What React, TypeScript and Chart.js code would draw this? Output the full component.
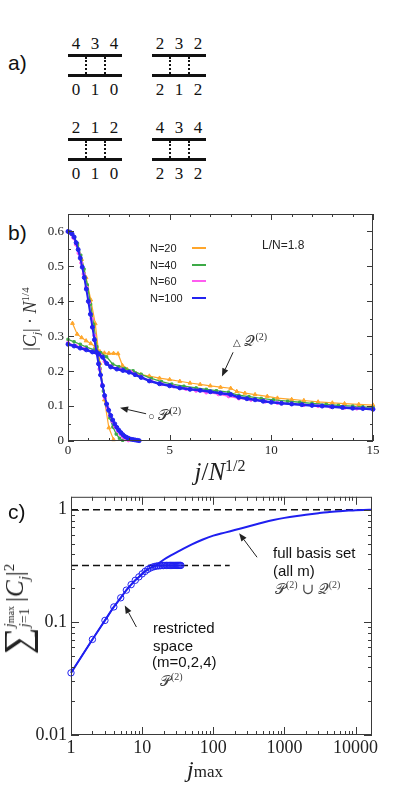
import React, { useEffect, useRef } from 'react';
import { Chart, registerables } from 'chart.js';
Chart.register(...registerables);

// ---------- Panel b data (x = j/N^{1/2}, y = |C_j| N^{1/4}) ----------
const n20PX = [0, 0.22, 0.45, 0.67, 0.89, 1.12, 1.34, 1.57, 1.79, 2.01, 2.24];
const n20PY = [0.600, 0.592, 0.562, 0.520, 0.468, 0.404, 0.336, 0.222, 0.118, 0.038, 0.004];
const n40PX = [0, 0.16, 0.32, 0.47, 0.63, 0.79, 0.95, 1.11, 1.26, 1.42, 1.58, 1.74, 1.90, 2.06, 2.21, 2.37, 2.53, 2.69];
const n40PY = [0.600, 0.596, 0.582, 0.565, 0.532, 0.492, 0.447, 0.392, 0.334, 0.270, 0.207, 0.143, 0.099, 0.066, 0.040, 0.020, 0.008, 0.002];
const n60PX = [0, 0.13, 0.26, 0.39, 0.52, 0.65, 0.77, 0.90, 1.03, 1.16, 1.29, 1.42, 1.55, 1.68, 1.81, 1.94, 2.07, 2.19, 2.32, 2.45, 2.58, 2.71, 2.84, 2.97];
const n60PY = [0.600, 0.595, 0.582, 0.563, 0.538, 0.510, 0.478, 0.440, 0.396, 0.350, 0.302, 0.252, 0.206, 0.162, 0.124, 0.096, 0.074, 0.056, 0.041, 0.029, 0.019, 0.011, 0.005, 0.002];
const n100PX = [0, 0.1, 0.2, 0.3, 0.4, 0.5, 0.6, 0.7, 0.8, 0.9, 1.0, 1.1, 1.2, 1.3, 1.4, 1.5, 1.6, 1.7, 1.8, 1.9, 2.0, 2.1, 2.2, 2.3, 2.4, 2.5, 2.6, 2.7, 2.8, 2.9, 3.0, 3.1, 3.2, 3.3, 3.4, 3.5];
const n100PY = [0.600, 0.598, 0.593, 0.584, 0.568, 0.548, 0.524, 0.498, 0.468, 0.435, 0.400, 0.363, 0.326, 0.290, 0.255, 0.221, 0.189, 0.158, 0.130, 0.106, 0.088, 0.073, 0.060, 0.049, 0.039, 0.031, 0.024, 0.018, 0.013, 0.010, 0.007, 0.005, 0.004, 0.003, 0.002, 0.001];

const n20QX = [0.22, 0.45, 0.67, 0.89, 1.12, 1.34, 1.57, 1.79, 2.01, 2.24, 2.46, 2.68, 2.91, 3.13, 3.35, 3.58, 4.0, 4.5, 5.0, 5.5, 6.0, 6.5, 7.0, 7.5, 8.0, 8.3, 8.7, 9.2, 9.8, 10.3, 11.0, 11.6, 12.3, 13.0, 13.6, 14.3, 15.0];
const n20QY = [0.337, 0.306, 0.296, 0.287, 0.279, 0.270, 0.256, 0.252, 0.251, 0.251, 0.250, 0.216, 0.205, 0.197, 0.193, 0.190, 0.186, 0.180, 0.176, 0.171, 0.166, 0.162, 0.158, 0.154, 0.151, 0.142, 0.137, 0.133, 0.128, 0.123, 0.119, 0.116, 0.112, 0.109, 0.107, 0.105, 0.103];
const n40QX = [0, 0.3, 0.6, 0.9, 1.3, 1.6, 1.9, 2.2, 2.5, 2.8, 3.2, 3.6, 4.1, 4.6, 5.1, 5.7, 6.3, 6.8, 7.3, 7.9, 8.4, 8.9, 9.5, 10.1, 10.8, 11.4, 12.0, 12.7, 13.3, 14.0, 14.5, 15.0];
const n40QY = [0.291, 0.284, 0.277, 0.269, 0.261, 0.253, 0.241, 0.220, 0.213, 0.208, 0.201, 0.191, 0.179, 0.170, 0.163, 0.157, 0.152, 0.148, 0.144, 0.140, 0.131, 0.127, 0.122, 0.118, 0.114, 0.111, 0.108, 0.105, 0.102, 0.100, 0.098, 0.096];
const n60QX = [0, 0.4, 0.8, 1.2, 1.6, 1.8, 2.1, 2.6, 3.1, 3.6, 4.1, 4.6, 5.2, 5.8, 6.3, 6.8, 7.4, 7.9, 8.4, 9.0, 9.7, 10.3, 11.0, 11.6, 12.3, 12.9, 13.6, 14.2, 15.0];
const n60QY = [0.281, 0.272, 0.264, 0.256, 0.245, 0.228, 0.214, 0.205, 0.197, 0.184, 0.171, 0.163, 0.156, 0.149, 0.144, 0.139, 0.134, 0.128, 0.122, 0.118, 0.113, 0.109, 0.106, 0.103, 0.100, 0.098, 0.095, 0.093, 0.090];
const n100QX = [0, 0.3, 0.6, 0.9, 1.2, 1.5, 1.7, 1.9, 2.1, 2.4, 2.7, 3.0, 3.3, 3.6, 4.0, 4.5, 5.0, 5.5, 6.0, 6.5, 7.0, 7.5, 8.0, 8.4, 8.8, 9.2, 9.6, 10.0, 10.5, 11.0, 11.5, 12.0, 12.5, 13.0, 13.5, 14.0, 14.5, 15.0];
const n100QY = [0.277, 0.272, 0.266, 0.261, 0.255, 0.249, 0.240, 0.222, 0.212, 0.206, 0.202, 0.197, 0.190, 0.182, 0.172, 0.164, 0.158, 0.152, 0.148, 0.145, 0.141, 0.137, 0.133, 0.125, 0.121, 0.118, 0.114, 0.111, 0.108, 0.106, 0.104, 0.102, 0.100, 0.098, 0.096, 0.094, 0.093, 0.091];

const legendLabels = ['N=20', 'N=40', 'N=60', 'N=100'];
const seriesColors = ['#FFA62B', '#3DAA47', '#FF5CF0', '#2323F0'];

// ---------- Panel c data ----------
const restrictedJ = [1, 2, 3, 4, 5, 6, 7, 8, 9, 10, 11, 12, 13, 14, 15, 16, 17, 18, 19, 20, 21, 22, 23, 24, 25, 26, 27, 28, 29, 30, 31, 32, 33, 34, 35];
const restrictedY = [0.0356, 0.0705, 0.104, 0.137, 0.165, 0.193, 0.216, 0.236, 0.253, 0.269, 0.283, 0.295, 0.303, 0.309, 0.313, 0.316, 0.317, 0.318, 0.319, 0.319, 0.32, 0.32, 0.32, 0.32, 0.32, 0.32, 0.32, 0.32, 0.32, 0.32, 0.32, 0.32, 0.32, 0.32, 0.32];
const fullJ = [1, 2, 3, 4, 5, 6, 7, 8, 9, 10, 12, 14, 16, 20, 25, 30, 40, 50, 70, 100, 150, 200, 300, 500, 700, 1000, 1500, 2000, 3000, 4000, 6000, 8000, 10000, 13000, 17000];
const fullY = [0.0356, 0.0705, 0.104, 0.137, 0.165, 0.193, 0.216, 0.236, 0.253, 0.269, 0.297, 0.310, 0.323, 0.359, 0.391, 0.415, 0.458, 0.492, 0.541, 0.588, 0.628, 0.660, 0.705, 0.768, 0.808, 0.845, 0.880, 0.902, 0.931, 0.950, 0.970, 0.982, 0.990, 0.995, 0.998];
const plateauJ = [1, 170];
const plateauY = [0.32, 0.32];
const unityJ = [1, 17000];
const unityY = [1, 1];
const cXTicks = [1, 10, 100, 1000, 10000];
const cYTicks = [0.01, 0.1, 1];

// annotation arrows (data coordinates)
const bArrows = [
  { x0: 8.12, y0: 0.254, x1: 7.57, y1: 0.185 },
  { x0: 3.84, y0: 0.078, x1: 2.56, y1: 0.095 },
];
const cArrows = [
  { x0: 412, y0: 0.378, x1: 231, y1: 0.617 },
  { x0: 8.3, y0: 0.0909, x1: 5.7, y1: 0.141 },
];

const pts = (xs: number[], ys: number[]) => xs.slice(0, Math.min(xs.length, ys.length)).map((x, i) => ({ x, y: ys[i] }));

function drawArrow(ctx: CanvasRenderingContext2D, x0: number, y0: number, x1: number, y1: number) {
  const ang = Math.atan2(y1 - y0, x1 - x0);
  const hl = 8, hw = 3.2;
  const bx = x1 - hl * Math.cos(ang), by = y1 - hl * Math.sin(ang);
  ctx.beginPath();
  ctx.moveTo(x0, y0);
  ctx.lineTo(bx, by);
  ctx.stroke();
  ctx.beginPath();
  ctx.moveTo(x1, y1);
  ctx.lineTo(bx + hw * Math.sin(ang), by - hw * Math.cos(ang));
  ctx.lineTo(bx - hw * Math.sin(ang), by + hw * Math.cos(ang));
  ctx.closePath();
  ctx.fill();
}

type TickDef = { v: number; major: boolean };
function framePlugin(xt: (s: any) => TickDef[], yt: (s: any) => TickDef[], majorLen: number, minorLen: number, arrows: any[]) {
  return {
    id: 'frameTicks',
    afterDraw(chart: any) {
      const { ctx, chartArea: a, scales } = chart;
      const xs = scales.x, ys = scales.y;
      ctx.save();
      ctx.strokeStyle = '#3a3a3a';
      ctx.lineWidth = 1;
      ctx.strokeRect(a.left + 0.5, a.top + 0.5, a.right - a.left - 1, a.bottom - a.top - 1);
      ctx.beginPath();
      xt(xs).forEach((t) => {
        const p = Math.round(xs.getPixelForValue(t.v)) + 0.5;
        const L = t.major ? majorLen : minorLen;
        ctx.moveTo(p, a.bottom); ctx.lineTo(p, a.bottom - L);
        ctx.moveTo(p, a.top); ctx.lineTo(p, a.top + L);
      });
      yt(ys).forEach((t) => {
        const p = Math.round(ys.getPixelForValue(t.v)) + 0.5;
        const L = t.major ? majorLen : minorLen;
        ctx.moveTo(a.left, p); ctx.lineTo(a.left + L, p);
        ctx.moveTo(a.right, p); ctx.lineTo(a.right - L, p);
      });
      ctx.stroke();
      ctx.strokeStyle = '#222';
      ctx.fillStyle = '#222';
      arrows.forEach((ar) => drawArrow(ctx, xs.getPixelForValue(ar.x0), ys.getPixelForValue(ar.y0), xs.getPixelForValue(ar.x1), ys.getPixelForValue(ar.y1)));
      ctx.restore();
    },
  };
}

const linTicks = (min: number, max: number, step: number, majorEvery: number): TickDef[] => {
  const out: TickDef[] = [];
  const n = Math.round((max - min) / step);
  for (let i = 0; i <= n; i++) out.push({ v: min + i * step, major: i % majorEvery === 0 });
  return out;
};
const logTicks = (min: number, max: number): TickDef[] => {
  const out: TickDef[] = [];
  for (let d = Math.floor(Math.log10(min)); d <= Math.ceil(Math.log10(max)); d++) {
    for (let k = 1; k <= 9; k++) {
      const v = k * Math.pow(10, d);
      if (v >= min * 0.9999 && v <= max * 1.0001) out.push({ v, major: k === 1 });
    }
  }
  return out;
};

const SERIF = "'Liberation Serif', 'DejaVu Serif', serif";
const SANS = "'Liberation Sans', Arial, sans-serif";

const abs = (x: number, y: number, extra: React.CSSProperties = {}): React.CSSProperties => ({
  position: 'absolute', left: x, top: y, whiteSpace: 'nowrap', lineHeight: 1, ...extra,
});

function Ladder({ cx, y0, top, bottom }: { cx: number; y0: number; top: string[]; bottom: string[] }) {
  const digit = (d: string, x: number, y: number, k: string) => (
    <div key={k} style={abs(x, y, { transform: 'translate(-50%,-50%)', fontFamily: SERIF, fontSize: 17, color: '#111' })}>{d}</div>
  );
  return (
    <>
      {top.map((d, i) => digit(d, cx + (i - 1) * 19, y0, 't' + i))}
      <div style={abs(cx - 27, y0 + 11, { width: 54, height: 2.5, background: '#111' })} />
      <div style={abs(cx - 27, y0 + 31, { width: 54, height: 2.5, background: '#111' })} />
      <div style={abs(cx - 10, y0 + 14, { height: 17, borderLeft: '2px dotted #111' })} />
      <div style={abs(cx + 9, y0 + 14, { height: 17, borderLeft: '2px dotted #111' })} />
      {bottom.map((d, i) => digit(d, cx + (i - 1) * 19, y0 + 46, 'b' + i))}
    </>
  );
}

export default function App() {
  const bRef = useRef<HTMLCanvasElement>(null);
  const cRef = useRef<HTMLCanvasElement>(null);

  useEffect(() => {
    const mk = (xs: number[], ys: number[], idx: number, style: any, radius: number, width: number) => ({
      data: pts(xs, ys),
      borderColor: seriesColors[idx],
      backgroundColor: seriesColors[idx],
      pointStyle: style,
      pointRadius: radius,
      pointBorderWidth: 1,
      borderWidth: width,
      showLine: true,
      order: 3 - idx,
      clip: false as any,
    });
    const chartB = new Chart(bRef.current!, {
      type: 'scatter',
      data: {
        datasets: [
          mk(n100PX, n100PY, 3, 'circle', 2, 2),
          mk(n100QX, n100QY, 3, 'circle', 2, 2.5),
          mk(n60PX, n60PY, 2, 'circle', 1.6, 1.3),
          mk(n60QX, n60QY, 2, 'circle', 1.6, 1.3),
          mk(n40PX, n40PY, 1, 'rect', 1.6, 1.3),
          mk(n40QX, n40QY, 1, 'rect', 1.6, 1.3),
          mk(n20PX, n20PY, 0, 'triangle', 2.2, 1.2),
          mk(n20QX, n20QY, 0, 'triangle', 2.2, 1.2),
        ] as any,
      },
      options: {
        animation: false,
        responsive: false,
        events: [],
        layout: { padding: { top: 14, right: 22, left: 0, bottom: 0 } },
        plugins: { legend: { display: false }, tooltip: { enabled: false } },
        scales: {
          x: {
            type: 'linear', min: 0, max: 15,
            grid: { display: false, drawTicks: false }, border: { display: false },
            ticks: {
              stepSize: 5, autoSkip: false, maxRotation: 0, padding: 2, color: '#222',
              font: { family: SERIF, size: 13 },
              callback: (v: any) => String(v),
            },
            afterFit: (s: any) => { s.height = 29; },
          },
          y: {
            type: 'linear', min: 0, max: 0.65,
            grid: { display: false, drawTicks: false }, border: { display: false },
            ticks: {
              stepSize: 0.1, autoSkip: false, padding: 4, color: '#222',
              font: { family: SERIF, size: 13 },
              callback: (v: any) => { const r = Math.round(v * 10); return r === 0 ? '0' : (r / 10).toFixed(1); },
            },
            afterBuildTicks: (s: any) => { s.ticks = [0, 0.1, 0.2, 0.3, 0.4, 0.5, 0.6].map((v) => ({ value: v })); },
            afterFit: (s: any) => { s.width = 68; },
          },
        },
      } as any,
      plugins: [framePlugin(() => linTicks(0, 15, 1, 5), () => linTicks(0, 0.65, 0.05, 2), 6, 3, bArrows)],
    });

    const blue = '#1F1FF0';
    const chartC = new Chart(cRef.current!, {
      type: 'scatter',
      data: {
        datasets: [
          {
            data: pts(restrictedJ, restrictedY), showLine: true, borderColor: blue, borderWidth: 1.5,
            pointStyle: 'circle', pointRadius: 3.2, pointBorderWidth: 1, pointBackgroundColor: 'rgba(0,0,0,0)', pointBorderColor: blue,
            clip: false, order: 0,
          },
          {
            data: pts(fullJ, fullY), showLine: true, borderColor: blue, borderWidth: 2, pointRadius: 0, clip: false, order: 1,
            cubicInterpolationMode: 'monotone',
          },
          {
            data: pts(plateauJ, plateauY), showLine: true, borderColor: '#111', borderWidth: 1.5, borderDash: [7, 4], pointRadius: 0, order: 2,
          },
          {
            data: pts(unityJ, unityY), showLine: true, borderColor: '#111', borderWidth: 1.5, borderDash: [7, 4], pointRadius: 0, order: 2,
          },
        ] as any,
      },
      options: {
        animation: false,
        responsive: false,
        events: [],
        layout: { padding: { top: 14, right: 23, left: 0, bottom: 0 } },
        plugins: { legend: { display: false }, tooltip: { enabled: false } },
        scales: {
          x: {
            type: 'logarithmic', min: 1, max: 17000,
            grid: { display: false, drawTicks: false }, border: { display: false },
            ticks: { autoSkip: false, maxRotation: 0, padding: 2, color: '#222', font: { family: SERIF, size: 18 }, callback: (v: any) => String(v) },
            afterBuildTicks: (s: any) => { s.ticks = cXTicks.map((v) => ({ value: v })); },
            afterFit: (s: any) => { s.height = 31; },
          },
          y: {
            type: 'logarithmic', min: 0.01, max: 1.3,
            grid: { display: false, drawTicks: false }, border: { display: false },
            ticks: { autoSkip: false, padding: 4, color: '#222', font: { family: SERIF, size: 18 }, callback: (v: any) => String(v) },
            afterBuildTicks: (s: any) => { s.ticks = cYTicks.map((v) => ({ value: v })); },
            afterFit: (s: any) => { s.width = 71; },
          },
        },
      } as any,
      plugins: [framePlugin(() => logTicks(1, 17000), () => logTicks(0.01, 1.3), 8, 4, cArrows)],
    });

    return () => { chartB.destroy(); chartC.destroy(); };
  }, []);

  const P = '\u{1D4AB}';
  const Q = '\u{1D4AC}';
  const legendY = [248, 264.5, 281, 297.5];

  return (
    <div style={{ position: 'absolute', left: 0, top: 0, width: 395, height: 799, background: '#fff', overflow: 'hidden', color: '#111' }}>
      {/* panel a */}
      <div style={abs(8, 62, { transform: 'translateY(-50%)', fontFamily: SANS, fontSize: 21 })}>a)</div>
      <Ladder cx={95} y0={43} top={['4', '3', '4']} bottom={['0', '1', '0']} />
      <Ladder cx={179} y0={43} top={['2', '3', '2']} bottom={['2', '1', '2']} />
      <Ladder cx={95} y0={127} top={['2', '1', '2']} bottom={['0', '1', '0']} />
      <Ladder cx={179} y0={127} top={['4', '3', '4']} bottom={['2', '3', '2']} />

      {/* panel b */}
      <div style={abs(8, 232, { transform: 'translateY(-50%)', fontFamily: SANS, fontSize: 21 })}>b)</div>
      <canvas ref={bRef} width={395} height={270} style={{ position: 'absolute', left: 0, top: 200, display: 'block' }} />
      {legendLabels.map((l, i) => (
        <React.Fragment key={l}>
          <div style={abs(150, legendY[i], { transform: 'translateY(-50%)', fontFamily: SANS, fontSize: 11, color: '#222' })}>{l}</div>
          <div style={abs(192, Math.round(legendY[i]) - 1, { width: 14, height: 2, background: seriesColors[i] })} />
        </React.Fragment>
      ))}
      <div style={abs(262, 245, { transform: 'translateY(-50%)', fontFamily: SANS, fontSize: 12, color: '#222' })}>L/N=1.8</div>
      <div style={abs(233, 340, { transform: 'translateY(-50%)', fontFamily: SERIF, fontSize: 15, color: '#333' })}>
        <span style={{ fontSize: 10 }}>△</span> {Q}<sup style={{ fontSize: 10 }}>(2)</sup>
      </div>
      <div style={abs(148, 414, { transform: 'translateY(-50%)', fontFamily: SERIF, fontSize: 15, color: '#333' })}>
        <span style={{ fontSize: 11 }}>○</span> {P}<sup style={{ fontSize: 10 }}>(2)</sup>
      </div>
      <div style={abs(31, 319, { transform: 'translate(-50%,-50%) rotate(-90deg)', fontFamily: SERIF, fontSize: 18, color: '#333' })}>
        |<i>C</i><sub style={{ fontSize: 11 }}><i>j</i></sub>| · <i>N</i><sup style={{ fontSize: 11 }}>1/4</sup>
      </div>
      <div style={abs(220, 471, { transform: 'translate(-50%,-50%)', fontFamily: SERIF, fontSize: 25, color: '#222' })}>
        <i>j</i>/<i>N</i><sup style={{ fontSize: 16 }}>1/2</sup>
      </div>

      {/* panel c */}
      <div style={abs(8, 511, { transform: 'translateY(-50%)', fontFamily: SANS, fontSize: 21 })}>c)</div>
      <canvas ref={cRef} width={395} height={284} style={{ position: 'absolute', left: 0, top: 482, display: 'block' }} />
      <div style={abs(273, 552, { transform: 'translateY(-50%)', fontFamily: SANS, fontSize: 15, color: '#111' })}>full basis set</div>
      <div style={abs(273, 570, { transform: 'translateY(-50%)', fontFamily: SANS, fontSize: 15, color: '#111' })}>(all m)</div>
      <div style={abs(275, 588, { transform: 'translateY(-50%)', fontFamily: SERIF, fontSize: 15, color: '#444' })}>
        {P}<sup style={{ fontSize: 10 }}>(2)</sup> ∪ {Q}<sup style={{ fontSize: 10 }}>(2)</sup>
      </div>
      <div style={abs(153, 627, { transform: 'translateY(-50%)', fontFamily: SANS, fontSize: 15, color: '#111' })}>restricted</div>
      <div style={abs(153, 645, { transform: 'translateY(-50%)', fontFamily: SANS, fontSize: 15, color: '#111' })}>space</div>
      <div style={abs(152, 661, { transform: 'translateY(-50%)', fontFamily: SANS, fontSize: 15, color: '#111' })}>(m=0,2,4)</div>
      <div style={abs(160, 680, { transform: 'translateY(-50%)', fontFamily: SERIF, fontSize: 15, color: '#444' })}>
        {P}<sup style={{ fontSize: 10 }}>(2)</sup>
      </div>
      <div style={abs(17, 609, { transform: 'translate(-50%,-50%) rotate(-90deg)', fontFamily: SERIF, fontSize: 25, color: '#222', display: 'flex', alignItems: 'center' })}>
        <span style={{ fontSize: 38 }}>∑</span>
        <span style={{ display: 'inline-flex', flexDirection: 'column', fontSize: 14, lineHeight: 1.1, marginRight: 4 }}>
          <span><i>j</i><span style={{ fontSize: 10 }}>max</span></span>
          <span><i>j</i>=1</span>
        </span>
        <span>|<i>C</i><sub style={{ fontSize: 15 }}><i>j</i></sub>|<sup style={{ fontSize: 15 }}>2</sup></span>
      </div>
      <div style={abs(205, 769, { transform: 'translate(-50%,-50%)', fontFamily: SERIF, fontSize: 24, color: '#222' })}>
        <i>j</i><span style={{ fontSize: 17 }}>max</span>
      </div>
    </div>
  );
}
